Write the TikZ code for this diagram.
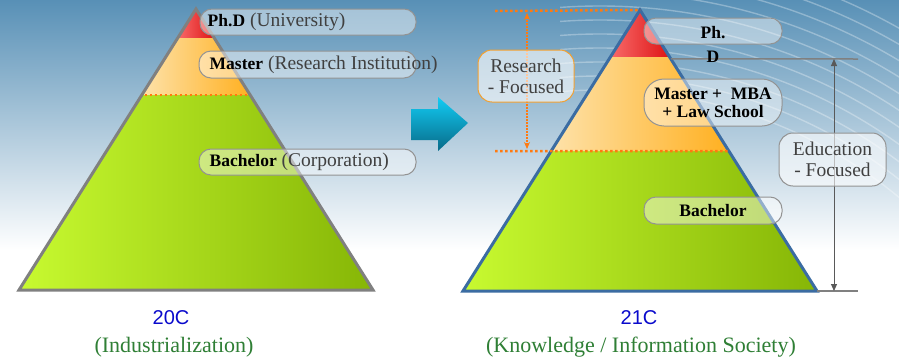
\documentclass[tikz,border=0pt]{standalone}
\usepackage{fontspec}
\setmainfont{Liberation Serif}
\newfontfamily\capfont{Liberation Sans}
\usepackage{tikz}
\usetikzlibrary{calc,arrows.meta,positioning}

\definecolor{bgblue}{HTML}{5890B6}
\definecolor{greenL}{HTML}{C8FA30}
\definecolor{greenR}{HTML}{86B606}
\definecolor{orangeL}{HTML}{FEE2AA}
\definecolor{orangeR}{HTML}{FFB020}
\definecolor{redL}{HTML}{F86A6A}
\definecolor{redR}{HTML}{DE1414}
\definecolor{leftedge}{HTML}{808080}
\definecolor{rightedge}{HTML}{3B6CA2}
\definecolor{dotorange}{HTML}{FF7A10}
\definecolor{boxorange}{HTML}{F2A030}
\definecolor{arrowtop}{HTML}{12CCF4}
\definecolor{arrowbot}{HTML}{086A88}
\definecolor{capblue}{HTML}{0A0ACC}
\definecolor{capgreen}{HTML}{2F7F35}

\newcommand{\lbold}[1]{{\fontsize{17.5}{20}\selectfont\bfseries\color{black}#1}}

\begin{document}
\begin{tikzpicture}[
		x=1pt, y=-1pt,
		every node/.style={font=\fontsize{19.5}{22}\selectfont, text=black!75},
		labelbox/.style={rectangle, rounded corners=12pt, draw=gray!85, line width=1pt, fill=white, fill opacity=0.45, text opacity=1, inner sep=0pt},
		levelbox/.style={labelbox, align=center, text=black, font=\fontsize{17.5}{18}\selectfont\bfseries},
		focusbox/.style={labelbox, rounded corners=14pt, align=center, fill opacity=0.6, font=\fontsize{19.5}{21}\selectfont},
		caption/.style={font=\fontsize{22}{24}\selectfont, text=capgreen},
		century/.style={font=\capfont\fontsize{20}{24}\selectfont, text=capblue},
		dotline/.style={draw=dotorange, line width=2.5pt, dash pattern=on 2.5pt off 2.5pt},
		guideline/.style={draw=gray, line width=1.5pt},
		resarrow/.style={draw=dotorange, line width=1.1pt, dash pattern=on 1.5pt off 1.5pt, {Stealth[length=7pt,width=6pt]}-{Stealth[length=7pt,width=6pt]}},
		eduarrow/.style={draw=black!65, line width=1pt, {Triangle[length=7pt,width=6pt]}-{Triangle[length=7pt,width=6pt]}}
	]

	% Background
	\useasboundingbox (0,0) rectangle (899,362);
	\shade[top color=bgblue, bottom color=white] (0,0) rectangle (899,250);
	\fill[white] (0,250) rectangle (899,362);
	\begin{scope}
		\clip (560,0) rectangle (899,210);
		\foreach \r in {470,484,...,610}
			\draw[white, opacity=0.3, line width=1.4pt] (600,560) circle (\r pt);
	\end{scope}

	% Left pyramid (20C)
	\coordinate (ltop) at (196,9);
	\coordinate (lbl) at (19,290);
	\coordinate (lbr) at (373,290);
	\shade[left color=greenL, right color=greenR] ($(ltop)!0.306!(lbl)$) -- ($(ltop)!0.306!(lbr)$) -- (lbr) -- (lbl) -- cycle;
	\shade[left color=orangeL, right color=orangeR] ($(ltop)!0.103!(lbl)$) -- ($(ltop)!0.103!(lbr)$) -- ($(ltop)!0.306!(lbr)$) -- ($(ltop)!0.306!(lbl)$) -- cycle;
	\shade[left color=redL, right color=redR] (ltop) -- ($(ltop)!0.103!(lbr)$) -- ($(ltop)!0.103!(lbl)$) -- cycle;
	\draw[dotline] ($(ltop)!0.306!(lbl)+(3,0)$) -- ($(ltop)!0.306!(lbr)-(3,0)$);
	\draw[draw=leftedge, line width=3pt] (ltop) -- (lbr) -- (lbl) -- cycle;

	% Right pyramid (21C)
	\coordinate (rtop) at (640,10);
	\coordinate (rbl) at (463,291);
	\coordinate (rbr) at (817,291);
	\shade[left color=greenL, right color=greenR] ($(rtop)!0.502!(rbl)$) -- ($(rtop)!0.502!(rbr)$) -- (rbr) -- (rbl) -- cycle;
	\shade[left color=orangeL, right color=orangeR] ($(rtop)!0.167!(rbl)$) -- ($(rtop)!0.167!(rbr)$) -- ($(rtop)!0.502!(rbr)$) -- ($(rtop)!0.502!(rbl)$) -- cycle;
	\shade[left color=redL, right color=redR] (rtop) -- ($(rtop)!0.167!(rbr)$) -- ($(rtop)!0.167!(rbl)$) -- cycle;
	\draw[draw=rightedge, line width=3pt] (rtop) -- (rbr) -- (rbl) -- cycle;

	% Research range
	\coordinate (restop) at (495,11);
	\coordinate (resbot) at (495,151);
	\draw[dotline] (restop) -- (rtop);
	\draw[dotline] (resbot) -- ($(rtop)!0.502!(rbr)$);
	\coordinate (resup) at (527,13);
	\coordinate (resdown) at (527,149);
	\draw[resarrow] (resup) -- (resdown);

	% Education range
	\coordinate (eduline) at ($(rtop)!0.174!(rbr)$);
	\coordinate (eduend) at (858,59);
	\coordinate (baseend) at (858,291);
	\coordinate (eduup) at (834,59);
	\coordinate (edudown) at (834,291);
	\draw[guideline] (eduline) -- (eduend);
	\draw[guideline] (rbr) -- (baseend);
	\draw[eduarrow] (eduup) -- (edudown);

	% Transition arrow
	\shade[top color=arrowtop, bottom color=arrowbot] (411,109) -- (438,109) -- (438,97) -- (468,123) -- (438,151) -- (438,140) -- (411,140) -- cycle;

	% Left labels
	\node[labelbox, minimum width=216, minimum height=26] (phdbox) at (308,22) {};
	\node[labelbox, minimum width=217, minimum height=27] (masterbox) at (307.5,64.5) {};
	\node[labelbox, minimum width=217, minimum height=26] (bachbox) at (307.5,162) {};
	\node[anchor=west, inner sep=0pt] (phd) at ([xshift=8pt]phdbox.west) {\lbold{Ph.D} (University)};
	\node[anchor=west, inner sep=0pt] (master) at ([xshift=11pt]masterbox.west) {\lbold{Master} (Research Institution)};
	\node[anchor=west, inner sep=0pt] (bach) at ([xshift=11pt]bachbox.west) {\lbold{Bachelor} (Corporation)};

	% Right labels
	\node[labelbox, minimum width=138, minimum height=26] (phdbox2) at (713,31) {};
	\node[anchor=north, inner sep=0pt, align=center, text=black, font=\fontsize{17.5}{24}\selectfont\bfseries] (phd2) at (713,26) {Ph.\\D};
	\node[levelbox, rounded corners=20pt, minimum width=138, minimum height=47] (master2) at (713,102.5) {Master + \ MBA\\+ Law School};
	\node[levelbox, minimum width=138, minimum height=27] (bach2) at (713,210.5) {Bachelor};

	% Focus boxes
	\node[focusbox, draw=boxorange, minimum width=96, minimum height=52] (research) at (526,76) {Research\\- Focused};
	\node[focusbox, minimum width=107, minimum height=53] (education) at (832.5,159.5) {Education\\- Focused};

	% Captions
	\node[century] (c20) at (171,318) {20C};
	\node[caption] (ind) at (174,347) {(Industrialization)};
	\node[century] (c21) at (639,318) {21C};
	\node[caption] (know) at (641,347) {(Knowledge / Information Society)};

\end{tikzpicture}
\end{document}
